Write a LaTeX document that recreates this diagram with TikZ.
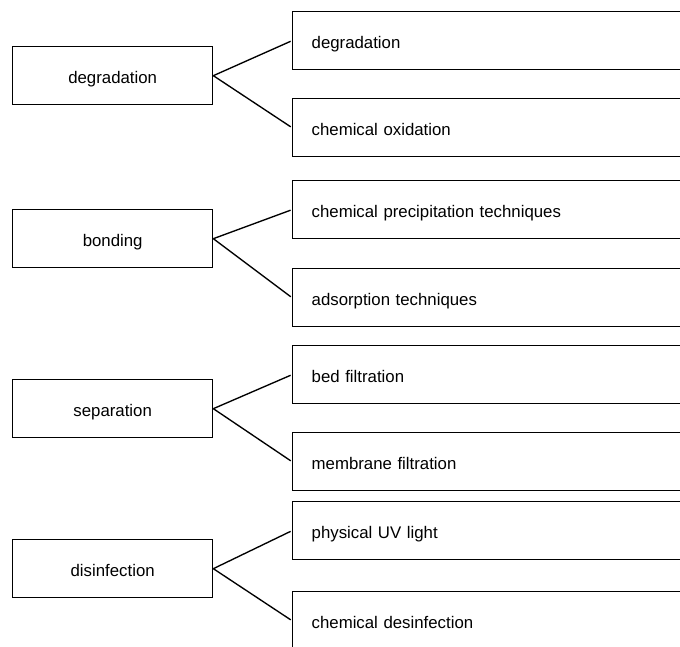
\documentclass[tikz,border=0pt]{standalone}
\usepackage{fontspec}
\setmainfont{Liberation Sans}
\begin{document}
\begin{tikzpicture}[x=1pt,y=-1pt,
  every node/.style={font=\fontsize{16.8}{20}\selectfont},
  catbox/.style={draw, line width=1.35pt, minimum width=200pt, minimum height=58pt, anchor=north west, inner sep=0pt, text height=16pt, text depth=1pt},
  itembox/.style={draw, line width=1.35pt, minimum height=58pt, anchor=north west, text width=400pt, inner xsep=19pt, inner ysep=0pt, align=left, text height=16pt, text depth=1pt},
  link/.style={line width=1.35pt, shorten >=1.5pt}]
\useasboundingbox (0,0) rectangle (680,646);
\clip (0,0) rectangle (680,646);
\fill[white] (0,0) rectangle (680,646);
% group 1
\node[catbox] (L1) at (12,46) {degradation};
\node[itembox] (R1a) at (292,11) {degradation};
\node[itembox] (R1b) at (292,98) {chemical oxidation};
% group 2
\node[catbox] (L2) at (12,209) {bonding};
\node[itembox] (R2a) at (292,180) {chemical precipitation techniques};
\node[itembox] (R2b) at (292,268) {adsorption techniques};
% group 3
\node[catbox] (L3) at (12,379) {separation};
\node[itembox] (R3a) at (292,345) {bed filtration};
\node[itembox] (R3b) at (292,432) {membrane filtration};
% group 4
\node[catbox] (L4) at (12,539) {disinfection};
\node[itembox] (R4a) at (292,501) {physical UV light};
\node[itembox] (R4b) at (292,591) {chemical desinfection};
% connectors
\draw[link] (L1.east) -- (R1a.west);
\draw[link] (L1.east) -- (R1b.west);
\draw[link] (L2.east) -- (R2a.west);
\draw[link] (L2.east) -- (R2b.west);
\draw[link] (L3.east) -- (R3a.west);
\draw[link] (L3.east) -- (R3b.west);
\draw[link] (L4.east) -- (R4a.west);
\draw[link] (L4.east) -- (R4b.west);
\end{tikzpicture}
\end{document}
